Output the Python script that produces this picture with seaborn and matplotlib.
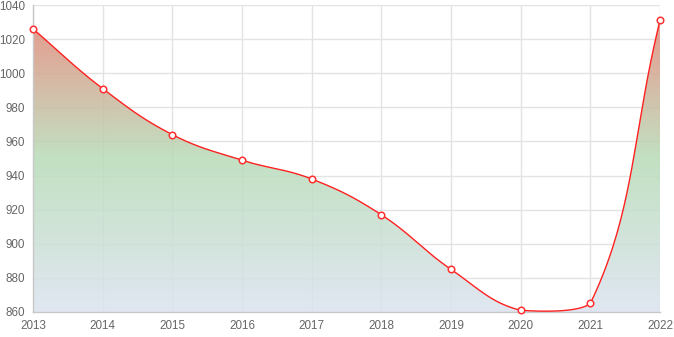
import numpy as np
import pandas as pd
import seaborn as sns
import matplotlib.pyplot as plt
from matplotlib.colors import LinearSegmentedColormap

years = [2013, 2014, 2015, 2016, 2017, 2018, 2019, 2020, 2021, 2022]
values = [1026, 991, 964, 949, 938, 917, 885, 861, 865, 1031]
y_ticks = [860, 880, 900, 920, 940, 960, 980, 1000, 1020, 1040]

sns.set_style('white')
plt.rcParams['font.family'] = ['Liberation Sans', 'DejaVu Sans']

W, H = 674, 337
fig = plt.figure(figsize=(W / 100, H / 100), dpi=100)
L, R, T, B = 33, 660, 5, 312
ax = fig.add_axes([L / W, (H - B) / H, (R - L) / W, (B - T) / H])
ax.set_xlim(2013, 2022)
ax.set_ylim(860, 1040)

# bezier smoothing like chart.js (tension 0.4), control points kept inside the area
sx = (R - L) / 9.0
sy = (B - T) / 180.0
px = np.array(years, float) * sx
py = np.array(values, float) * sy
n = len(px)
cp_prev, cp_next = [], []
for i in range(n):
    p0 = (px[max(i - 1, 0)], py[max(i - 1, 0)])
    p1 = (px[i], py[i])
    p2 = (px[min(i + 1, n - 1)], py[min(i + 1, n - 1)])
    d01 = np.hypot(p1[0] - p0[0], p1[1] - p0[1])
    d12 = np.hypot(p2[0] - p1[0], p2[1] - p1[1])
    s01 = d01 / (d01 + d12) if d01 + d12 else 0
    s12 = d12 / (d01 + d12) if d01 + d12 else 0
    fa, fb = 0.4 * s01, 0.4 * s12
    cp_prev.append([p1[0] - fa * (p2[0] - p0[0]), p1[1] - fa * (p2[1] - p0[1])])
    cp_next.append([p1[0] + fb * (p2[0] - p0[0]), p1[1] + fb * (p2[1] - p0[1])])
lo_x, hi_x = 2013 * sx, 2022 * sx
lo_y, hi_y = 860 * sy, 1040 * sy
for c in cp_prev + cp_next:
    c[0] = min(max(c[0], lo_x), hi_x)
    c[1] = min(max(c[1], lo_y), hi_y)
cx, cy = [], []
t = np.linspace(0, 1, 40)
for i in range(n - 1):
    P0 = np.array([px[i], py[i]])
    P1 = np.array(cp_next[i])
    P2 = np.array(cp_prev[i + 1])
    P3 = np.array([px[i + 1], py[i + 1]])
    pts = ((1 - t) ** 3)[:, None] * P0 + (3 * (1 - t) ** 2 * t)[:, None] * P1 \
        + (3 * (1 - t) * t ** 2)[:, None] * P2 + (t ** 3)[:, None] * P3
    cx.extend(pts[:, 0] / sx)
    cy.extend(pts[:, 1] / sy)
curve = pd.DataFrame({'x': cx, 'y': cy})

# grid
for yv in y_ticks:
    ax.axhline(yv, color='#e3e3e3', lw=1, zorder=0)
for xv in years:
    ax.axvline(xv, color='#e3e3e3', lw=1, zorder=0)

# gradient fill under curve (slightly transparent so the grid shows through)
cmap = LinearSegmentedColormap.from_list('g', [
    (0.0, (0.90, 0.50, 0.45)),
    (0.5, (0.72, 0.86, 0.72)),
    (1.0, (0.86, 0.89, 0.94)),
])
poly = ax.fill_between(curve['x'], curve['y'], 860, color='none', lw=0)
grad = np.linspace(0, 1, 256).reshape(-1, 1)
im = ax.imshow(grad, extent=[2013, 2022, 860, 1040], aspect='auto',
               cmap=cmap, origin='upper', zorder=1, alpha=0.85)
im.set_clip_path(poly.get_paths()[0], transform=ax.transData)

sns.lineplot(data=curve, x='x', y='y', sort=False, color='#ff2020', lw=1,
             ax=ax, zorder=3)
pts_df = pd.DataFrame({'year': years, 'value': values})
sns.scatterplot(data=pts_df, x='year', y='value', s=22, color='white',
                edgecolor='#ff3030', linewidth=1.1, ax=ax, zorder=4,
                clip_on=False)

ax.set_xticks(years)
ax.set_yticks(y_ticks)
ax.set_xlabel('')
ax.set_ylabel('')
ax.tick_params(axis='both', labelsize=8.4, colors='#666666', length=4,
               width=1, pad=1.5)
ax.tick_params(axis='both', color='#d9d9d9')
for s in ['top', 'right']:
    ax.spines[s].set_visible(False)
for s in ['left', 'bottom']:
    ax.spines[s].set_color('#c8c8c8')
    ax.spines[s].set_linewidth(1)

fig.savefig('out.png', dpi=100)
